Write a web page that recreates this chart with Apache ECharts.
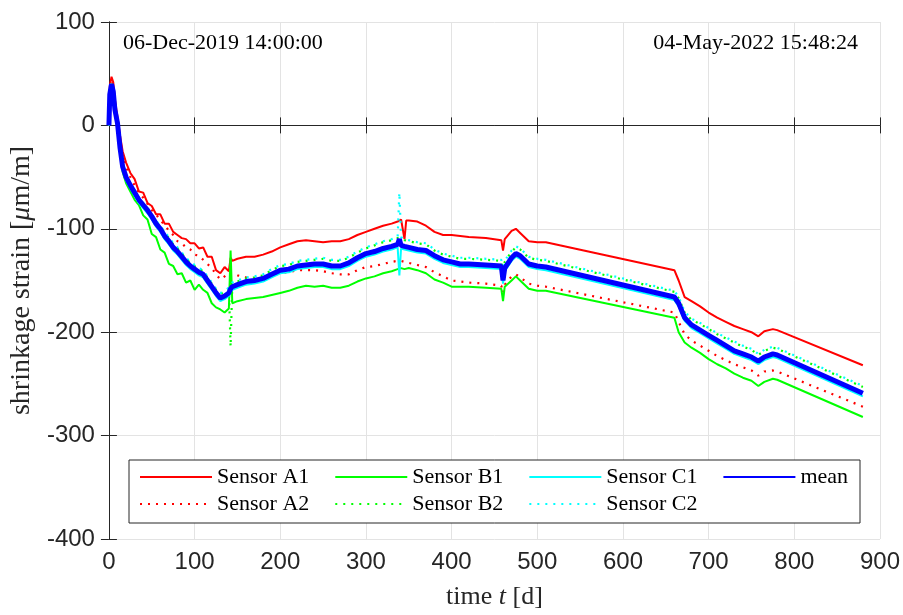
<!DOCTYPE html>
<html>
<head>
<meta charset="utf-8">
<script src="https://cdn.jsdelivr.net/npm/echarts@6/dist/echarts.min.js"></script>
<style>
html, body { margin: 0; padding: 0; background: #fff; }
#chart { width: 903px; height: 615px; }
</style>
</head>
<body>
<div id="chart"></div>
<script>
// time in days since 06-Dec-2019 14:00
const days = [
  0, 1, 3, 5, 7, 10, 13, 16, 20, 25,
  30, 35, 40, 45, 50, 55, 60, 65, 70, 75,
  80, 85, 90, 95, 100, 105, 110, 115, 120, 125,
  130, 135, 140, 142, 144, 150, 160, 170, 180, 190,
  200, 210, 220, 230, 240, 250, 260, 270, 280, 290,
  300, 310, 320, 330, 337, 339, 341, 345, 347, 350,
  360, 370, 380, 390, 400, 410, 420, 440, 458, 460,
  462, 470, 475, 480, 490, 500, 510, 660, 665, 672,
  680, 690, 700, 710, 720, 730, 740, 750, 758, 765,
  775, 780, 880
];

const sensorA1 = [
  0, 38, 47, 42, 25, 8, -10, -25, -36, -46,
  -52, -64, -65, -75, -78, -86, -86, -95, -95, -103,
  -106, -109, -110, -114, -114, -119, -118, -127, -127, -140,
  -143, -137, -141, -128, -131, -129, -127, -127, -125, -122,
  -118, -115, -112, -111, -112, -113, -112, -112, -110, -106,
  -103, -100, -97, -95, -93, -92, -91, -110, -92, -92,
  -93, -97, -103, -106, -106, -107, -108, -109, -111, -121,
  -110, -102, -100, -104, -112, -113, -113, -140, -150, -166,
  -170, -175, -181, -186, -190, -194, -197, -200, -204, -199,
  -197, -198, -232
];

const sensorA2 = [
  0, 34, 44, 38, 20, 5, -14, -30, -40, -50,
  -58, -65, -70, -76, -82, -86, -92, -96, -102, -106,
  -112, -114, -118, -120, -125, -126, -130, -134, -138, -144,
  -149, -146, -142, -141, -143, -145, -147, -148, -147, -145,
  -143, -142, -140, -140, -140, -141, -143, -144, -144, -140,
  -137, -136, -134, -132, -131, -130, -131, -132, -132, -133,
  -135, -137, -142, -146, -150, -151, -152, -153, -155, -162,
  -154, -146, -144, -147, -153, -155, -156, -181, -190, -202,
  -208, -213, -218, -223, -227, -231, -234, -237, -242, -238,
  -237, -238, -272
];

const sensorB1 = [
  0, 26, 38, 30, 12, -2, -26, -45, -56, -64,
  -72, -77, -87, -91, -105, -108, -120, -123, -134, -136,
  -144, -143, -152, -150, -159, -154, -159, -162, -172, -176,
  -178, -181, -177, -121, -172, -170, -168, -167, -166, -164,
  -162, -160, -157, -155, -156, -155, -157, -157, -155, -151,
  -148, -146, -143, -141, -139, -139, -138, -139, -140, -138,
  -140, -143, -149, -152, -156, -156, -156, -157, -158, -170,
  -156, -150, -146, -150, -158, -160, -160, -186, -200, -210,
  -215, -220, -226, -231, -235, -240, -244, -247, -252, -248,
  -245, -246, -282
];

const sensorB2 = [
  0, 31, 40, 33, 15, 2, -21, -39, -49, -57,
  -64, -71, -76, -81, -87, -93, -98, -104, -109, -115,
  -119, -124, -129, -133, -136, -139, -141, -147, -153, -159,
  -163, -161, -158, -214, -153, -151, -148, -147, -145, -140,
  -136, -135, -132, -131, -130, -129, -131, -131, -128, -123,
  -119, -116, -113, -111, -109, -109, -109, -111, -112, -112,
  -114, -115, -121, -125, -127, -129, -129, -130, -131, -145,
  -132, -122, -118, -120, -128, -130, -131, -161, -167, -181,
  -188, -192, -197, -202, -206, -210, -214, -217, -222, -218,
  -215, -216, -253
];

const sensorC1 = [
  0, 28, 38, 31, 13, 0, -25, -43, -53, -61,
  -68, -75, -80, -85, -91, -98, -103, -110, -115, -121,
  -125, -130, -135, -139, -142, -145, -147, -153, -159, -165,
  -170, -168, -165, -161, -159, -157, -154, -153, -151, -147,
  -143, -142, -139, -138, -137, -137, -139, -139, -136, -131,
  -127, -125, -122, -120, -118, -145, -119, -120, -121, -121,
  -123, -124, -129, -133, -135, -137, -137, -138, -139, -153,
  -141, -131, -127, -129, -137, -139, -140, -169, -175, -189,
  -196, -201, -206, -211, -216, -221, -224, -227, -231, -227,
  -224, -225, -262
];

const sensorC2 = [
  0, 32, 41, 34, 16, 3, -20, -38, -48, -56,
  -63, -70, -75, -80, -86, -92, -97, -103, -108, -114,
  -118, -123, -128, -132, -135, -138, -140, -146, -152, -158,
  -162, -160, -157, -154, -152, -150, -147, -146, -144, -139,
  -135, -134, -131, -130, -129, -128, -130, -130, -127, -122,
  -118, -115, -112, -110, -108, -65, -108, -110, -111, -111,
  -113, -114, -120, -124, -126, -128, -128, -129, -130, -144,
  -131, -121, -117, -119, -127, -129, -130, -160, -166, -180,
  -187, -191, -196, -201, -205, -209, -213, -216, -221, -217,
  -214, -215, -252
];

const meanStrain = [
  0, 30, 40, 33, 15, 2, -22, -40, -50, -58,
  -65, -72, -77, -82, -88, -95, -100, -107, -112, -118,
  -122, -127, -132, -136, -139, -142, -144, -150, -156, -162,
  -167, -165, -162, -158, -156, -154, -151, -150, -148, -144,
  -140, -139, -136, -135, -134, -134, -136, -136, -133, -128,
  -124, -122, -119, -117, -115, -110, -116, -117, -118, -118,
  -120, -121, -126, -130, -132, -134, -134, -135, -136, -150,
  -138, -128, -124, -126, -134, -136, -137, -166, -172, -186,
  -193, -198, -203, -208, -213, -218, -221, -224, -228, -224,
  -221, -222, -259
];

const startLabel = '06-Dec-2019 14:00:00';
const endLabel = '04-May-2022 15:48:24';

const axisColor = '#262626';
const serif = '"Liberation Serif", "Times New Roman", serif';
const sans = '"Liberation Sans", Arial, sans-serif';

function pairs(vals) {
  return days.map((d, i) => [d, vals[i]]);
}

function line(name, vals, color, width, dash) {
  return {
    name: name,
    type: 'line',
    data: pairs(vals),
    symbol: 'none',
    showSymbol: false,
    animation: false,
    lineStyle: { color: color, width: width, type: dash || 'solid' },
    itemStyle: { color: color }
  };
}

const chart = echarts.init(document.getElementById('chart'));

const legendText = {
  fontFamily: serif,
  fontSize: 22,
  color: '#000',
  width: 100
};

function legendRow(names, top) {
  return {
    data: names,
    left: 139, top: top, padding: 0,
    itemWidth: 72, itemHeight: 14, itemGap: 25,
    itemStyle: { opacity: 0 },
    textStyle: legendText
  };
}

const option = {
  backgroundColor: '#fff',
  animation: false,
  grid: { left: 107, right: 22, top: 22, bottom: 73 },
  legend: [
    legendRow(['Sensor A1', 'Sensor B1', 'Sensor C1', 'mean'], 466),
    legendRow(['Sensor A2', 'Sensor B2', 'Sensor C2'], 493)
  ],
  xAxis: [
    {
      type: 'value', min: 0, max: 900, interval: 100,
      name: '{n|time }{i|t}{n| [d]}',
      nameLocation: 'middle', nameGap: 45,
      nameTextStyle: {
        rich: {
          n: { fontFamily: serif, fontSize: 26, color: axisColor },
          i: { fontFamily: serif, fontSize: 26, fontStyle: 'italic', color: axisColor }
        }
      },
      axisLine: { show: true, lineStyle: { color: axisColor } },
      axisTick: { inside: true, length: 8, lineStyle: { color: axisColor } },
      axisLabel: { color: axisColor, fontFamily: sans, fontSize: 24, margin: 11 },
      splitLine: { show: true, lineStyle: { color: '#e3e3e3' } }
    },
    {
      type: 'value', position: 'top', min: 0, max: 900, interval: 100,
      axisLine: { show: true, lineStyle: { color: axisColor } },
      axisTick: { inside: true, length: 8, lineStyle: { color: axisColor } },
      axisLabel: { show: false },
      splitLine: { show: false }
    }
  ],
  yAxis: [
    {
      type: 'value', min: -400, max: 100, interval: 100,
      name: '{n|shrinkage strain [}{i|μ}{n|m/m]}',
      nameLocation: 'middle', nameGap: 72, nameRotate: 90,
      nameTextStyle: {
        rich: {
          n: { fontFamily: serif, fontSize: 28, color: axisColor },
          i: { fontFamily: serif, fontSize: 28, fontStyle: 'italic', color: axisColor }
        }
      },
      axisLine: { show: true, lineStyle: { color: axisColor } },
      axisTick: { show: true, inside: true, length: 8, lineStyle: { color: axisColor } },
      axisLabel: { color: axisColor, fontFamily: sans, fontSize: 24, margin: 14 },
      splitLine: { show: true, lineStyle: { color: '#e3e3e3' } }
    },
    {
      type: 'value', position: 'right', min: -400, max: 100, interval: 100,
      axisLine: { show: true, lineStyle: { color: axisColor } },
      axisTick: { show: true, inside: true, length: 8, lineStyle: { color: axisColor } },
      axisLabel: { show: false },
      splitLine: { show: false }
    }
  ],
  graphic: [
    {
      type: 'rect', z: 3,
      shape: { x: 129, y: 460, width: 731, height: 63 },
      style: { fill: '#fff', stroke: axisColor, lineWidth: 1 }
    },
    {
      type: 'text', z: 5, left: 123, top: 32,
      style: { text: startLabel, font: '22px ' + serif, fill: '#000' }
    },
    {
      type: 'text', z: 5, right: 45, top: 32,
      style: { text: endLabel, font: '22px ' + serif, fill: '#000' }
    }
  ],
  series: [
    line('Sensor A1', sensorA1, '#ff0000', 2),
    line('Sensor A2', sensorA2, '#ff0000', 2.2, [2, 6]),
    line('Sensor B1', sensorB1, '#00ff00', 2),
    line('Sensor B2', sensorB2, '#00ff00', 2.2, [2, 6]),
    line('Sensor C1', sensorC1, '#00ffff', 2),
    line('Sensor C2', sensorC2, '#00ffff', 2.2, [2, 6]),
    line('mean', meanStrain, '#0000ff', 5)
  ]
};

chart.setOption(option);
</script>
</body>
</html>
